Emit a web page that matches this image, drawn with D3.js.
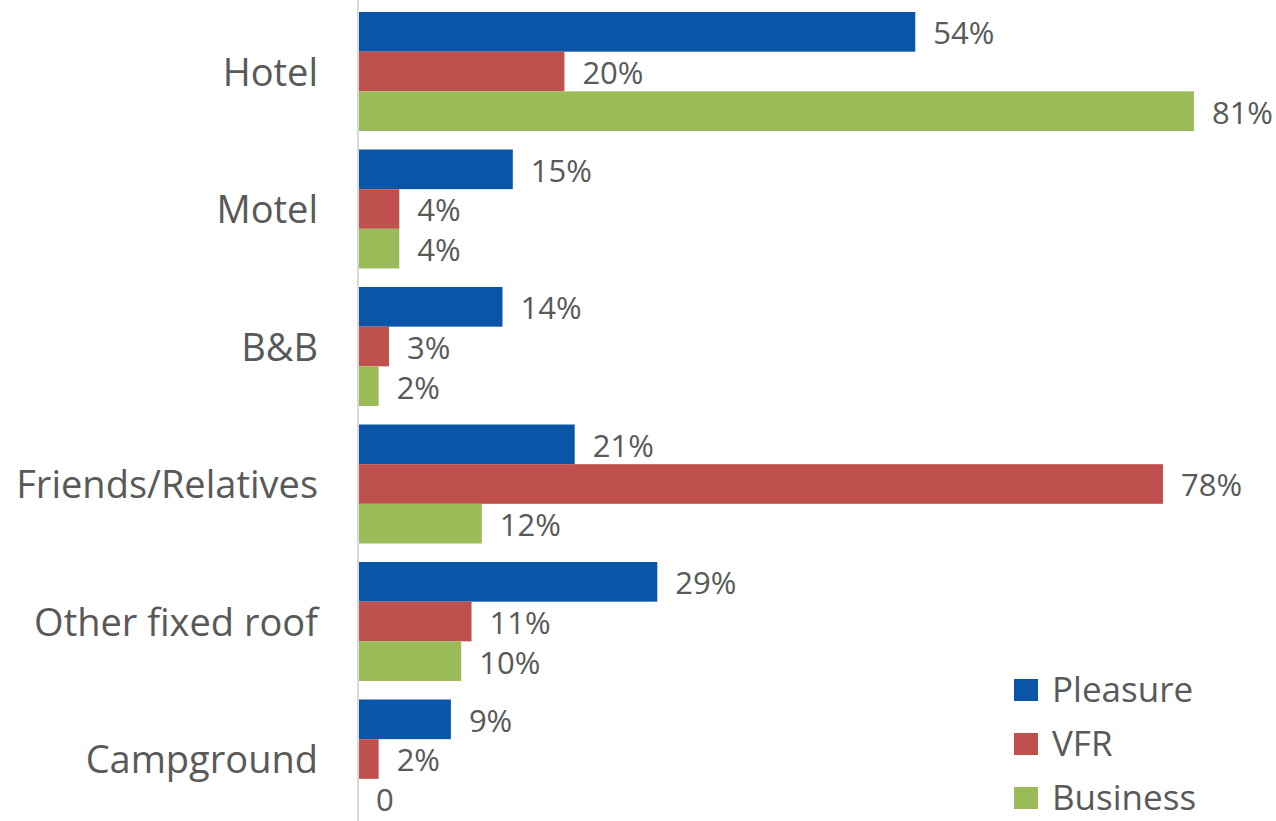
<!DOCTYPE html>
<html>
<head>
<meta charset="utf-8">
<script src="https://cdn.jsdelivr.net/npm/d3@7"></script>
<style>
  html, body { margin: 0; padding: 0; background: #fff; }
  svg text { font-family: "Open Sans", sans-serif; fill: #595959; }
</style>
</head>
<body>
<svg id="chart" width="1276" height="821"></svg>
<script>
// Accommodation type by trip purpose (share of travellers, %)
const categories = ["Hotel", "Motel", "B&B", "Friends/Relatives", "Other fixed roof", "Campground"];
const seriesNames = ["Pleasure", "VFR", "Business"];
const pleasure = [54, 15, 14, 21, 29, 9];
const vfr      = [20, 4, 3, 78, 11, 2];
const business = [81, 4, 2, 12, 10, 0];
const seriesValues = [pleasure, vfr, business];
const colors = ["#0b55a8", "#c0504d", "#9bbb59"];

const svg = d3.select("#chart");

const x = d3.scaleLinear().domain([0, 100]).range([358, 358 + 1032]);

const y = d3.scaleBand()
  .domain(categories)
  .range([2.75, 827.75])
  .paddingInner(0.1345)
  .paddingOuter(0.0673);

const ySub = d3.scaleBand()
  .domain(seriesNames)
  .range([0, y.bandwidth()]);

const rows = categories.map((c, i) => ({
  category: c,
  values: seriesNames.map((s, j) => ({ series: s, idx: j, value: seriesValues[j][i] }))
}));

const groups = svg.selectAll("g.group")
  .data(rows)
  .join("g")
  .attr("class", "group")
  .attr("transform", d => `translate(0,${y(d.category)})`);

groups.selectAll("rect")
  .data(d => d.values)
  .join("rect")
  .attr("x", x(0))
  .attr("y", d => ySub(d.series))
  .attr("width", d => x(d.value) - x(0))
  .attr("height", ySub.bandwidth())
  .attr("fill", d => colors[d.idx]);

groups.selectAll("text.value")
  .data(d => d.values)
  .join("text")
  .attr("class", "value")
  .attr("x", d => x(d.value) + 18)
  .attr("y", d => ySub(d.series) + ySub.bandwidth() / 2)
  .attr("dy", "0.4em")
  .style("font-size", "31px")
  .text(d => d.value === 0 ? "0" : d.value + "%");

// Category axis
const yAxis = d3.axisLeft(y).tickSize(0).tickPadding(40);
const axisG = svg.append("g")
  .attr("transform", `translate(${x(0)},0)`)
  .call(yAxis);
axisG.select(".domain").remove();
axisG.selectAll("text")
  .style("font-size", "38px")
  .attr("fill", "#595959")
  .attr("dy", "0.38em");

svg.append("line")
  .attr("x1", x(0)).attr("x2", x(0))
  .attr("y1", 0).attr("y2", 821)
  .attr("stroke", "#d9d9d9")
  .attr("stroke-width", 2);

// Legend
const legend = svg.append("g").attr("transform", "translate(1014,690)");
const li = legend.selectAll("g")
  .data(seriesNames)
  .join("g")
  .attr("transform", (d, i) => `translate(0,${i * 54})`);
li.append("rect")
  .attr("x", 0).attr("y", -11)
  .attr("width", 24).attr("height", 22)
  .attr("fill", (d, i) => colors[i]);
li.append("text")
  .attr("x", 38)
  .attr("dy", "0.34em")
  .style("font-size", "35px")
  .text(d => d);
</script>
</body>
</html>
